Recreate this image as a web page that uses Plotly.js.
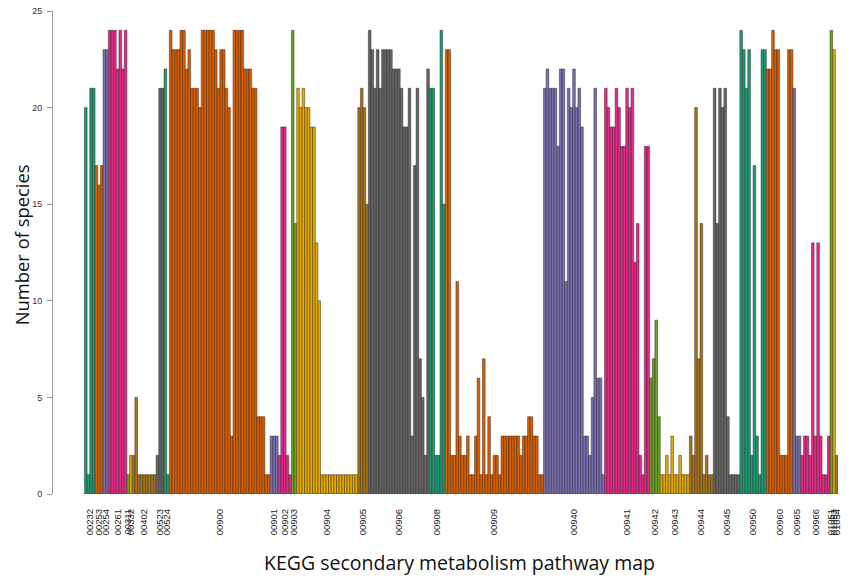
<!DOCTYPE html>
<html>
<head>
<meta charset="utf-8">
<script src="https://cdn.plot.ly/plotly-3.0.1.min.js"></script>
<style>
  html, body { margin: 0; padding: 0; background: #fff; }
  #chart { width: 851px; height: 583px; }
</style>
</head>
<body>
<div id="chart"></div>
<script>
    // --- DATA: KEGG pathway maps and species counts per bar ---
    const pathways = ['00232', '00253', '00254', '00261', '00311', '00332', '00402', '00523',
        '00524', '00900', '00901', '00902', '00903', '00904', '00905', '00906', '00908',
        '00909', '00940', '00941', '00942', '00943', '00944', '00945', '00950', '00960',
        '00965', '00966', '01051', '01053', '01054'];

    const speciesCounts = [
        [20, 1, 21, 21],
        [17, 16, 17],
        [23, 23],
        [24, 24, 24, 22, 24, 22, 24],
        [1],
        [2],
        [2, 5, 1, 1, 1, 1, 1, 1, 1],
        [2, 21, 21],
        [22, 1],
        [24, 23, 23, 23, 24, 24, 22, 23, 21, 21, 21, 20, 24, 24, 24, 24, 24, 23, 21, 23,
         23, 21, 20, 3, 24, 24, 24, 24, 22, 22, 22, 21, 21, 4, 4, 4, 1, 1],
        [3, 3, 3],
        [2, 19, 19, 2, 1],
        [24, 14],
        [21, 20, 21, 20, 20, 19, 19, 13, 10, 1, 1, 1, 1, 1, 1, 1, 1, 1, 1, 1, 1, 1, 1],
        [20, 21, 20, 15],
        [24, 23, 21, 23, 21, 23, 23, 23, 23, 22, 22, 22, 21, 19, 19, 21, 3, 17, 21, 7,
         5, 2, 22],
        [21, 21, 2, 2, 24, 15],
        [23, 23, 2, 2, 11, 3, 2, 2, 3, 1, 1, 3, 6, 1, 7, 1, 4, 1, 2, 2, 1, 3, 3, 3, 3,
         3, 3, 3, 2, 3, 3, 4, 4, 3, 3, 1, 1],
        [21, 22, 21, 21, 21, 18, 22, 22, 11, 21, 20, 22, 20, 21, 19, 3, 3, 2, 5, 21, 6, 6, 1],
        [21, 20, 19, 19, 21, 20, 18, 18, 21, 20, 21, 12, 14, 2, 1, 18, 18],
        [6, 7, 9, 4],
        [1, 1, 2, 1, 3, 1, 1, 2, 1, 1, 1],
        [3, 2, 20, 7, 14, 1, 2, 1, 1],
        [21, 14, 21, 20, 21, 4, 1, 1, 1, 1],
        [24, 23, 21, 23, 2, 17, 3, 1, 23, 23],
        [22, 22, 24, 23, 23, 2, 2, 2, 23, 23],
        [21, 3, 3],
        [2, 3, 3, 2, 13, 3, 13, 3, 1, 1, 3],
        [24],
        [23],
        [2]
    ];

    // RColorBrewer Dark2, recycled over the pathway groups
    const palette = ['#1B9E77', '#D95F02', '#7570B3', '#E7298A', '#66A61E', '#E6AB02', '#A6761D', '#666666'];

    // --- BUILD TRACES: one bar trace per pathway, bars touching ---
    const traces = [];
    const tickVals = [];
    let pos = 0;
    speciesCounts.forEach((vals, i) => {
        const xs = vals.map((v, j) => pos + j);
        tickVals.push(pos + (vals.length - 1) / 2);
        traces.push({
            type: 'bar',
            x: xs,
            y: vals,
            width: 1,
            name: pathways[i],
            marker: {
                color: palette[i % palette.length],
                line: { color: 'rgba(40,30,30,0.75)', width: 0.6 }
            },
            showlegend: false,
            hoverinfo: 'x+y'
        });
        pos += vals.length;
    });

    const layout = {
        width: 851,
        height: 583,
        margin: { l: 53, r: 13, t: 11, b: 89 },
        paper_bgcolor: '#fff',
        plot_bgcolor: '#fff',
        bargap: 0,
        font: { family: 'Liberation Sans, Arial, sans-serif', color: '#222' },
        xaxis: {
            range: [-12.35, pos - 0.5],
            showline: false,
            showgrid: false,
            zeroline: false,
            tickmode: 'array',
            tickvals: tickVals,
            ticktext: pathways,
            tickangle: -90,
            ticks: '',
            ticklabelstandoff: 12,
            tickfont: { size: 9.5, color: '#222' },
            fixedrange: true
        },
        yaxis: {
            range: [0, 25],
            tickvals: [0, 5, 10, 15, 20, 25],
            showline: true,
            linecolor: '#9a9a9a',
            linewidth: 1,
            showgrid: false,
            zeroline: false,
            ticks: 'outside',
            ticklen: 5,
            tickcolor: '#9a9a9a',
            ticklabelstandoff: 3,
            tickfont: { size: 9, color: '#333' },
            fixedrange: true
        },
        annotations: [
            {
                text: 'KEGG secondary metabolism pathway map',
                xref: 'paper', yref: 'paper',
                x: 0.518, y: -0.141,
                xanchor: 'center', yanchor: 'middle',
                showarrow: false,
                font: { family: 'Open Sans, sans-serif', size: 19.5, color: '#111' }
            },
            {
                text: 'Number of species',
                xref: 'paper', yref: 'paper',
                x: -0.04, y: 0.516,
                xanchor: 'center', yanchor: 'middle',
                textangle: -90,
                showarrow: false,
                font: { family: 'Open Sans, sans-serif', size: 18.4, color: '#111' }
            }
        ]
    };

    Plotly.newPlot('chart', traces, layout, { displayModeBar: false, staticPlot: true });
</script>
</body>
</html>
